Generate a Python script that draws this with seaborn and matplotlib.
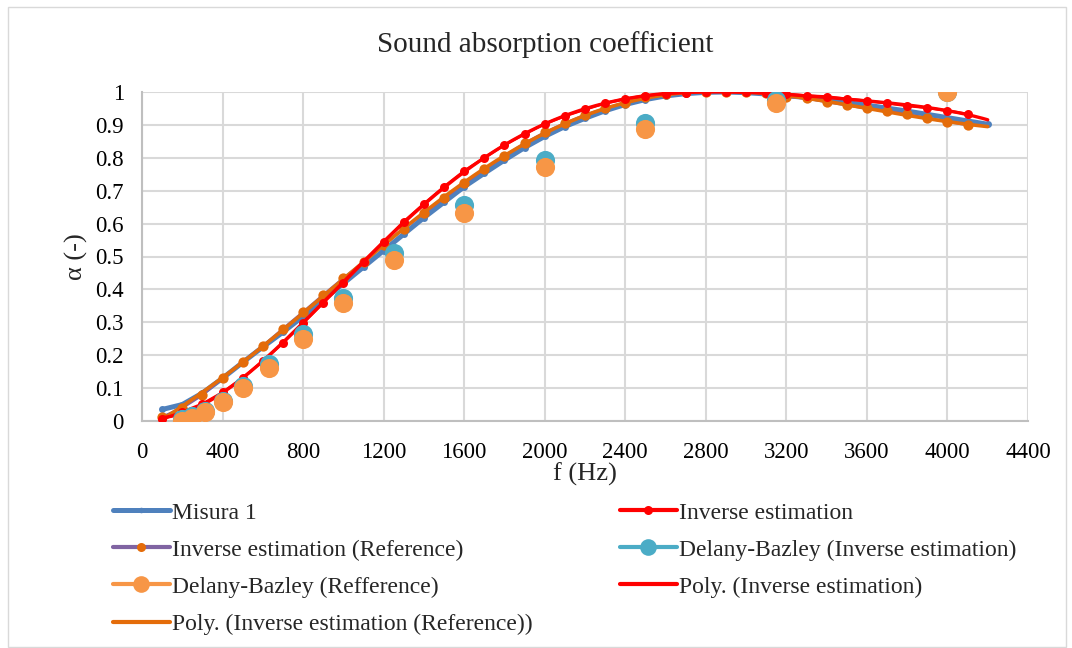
import numpy as np
import pandas as pd
import matplotlib
matplotlib.use("Agg")
import matplotlib.pyplot as plt
from matplotlib.lines import Line2D
from matplotlib.patches import Rectangle
import seaborn as sns

# ---- data -------------------------------------------------------------
freq_meas = [100, 200, 300, 400, 500, 600, 700, 800, 900, 1000, 1100, 1200,
             1300, 1400, 1500, 1600, 1700, 1800, 1900, 2000, 2100, 2200, 2300,
             2400, 2500, 2600, 2700, 2800, 2900, 3000, 3100, 3200, 3300, 3400,
             3500, 3600, 3700, 3800, 3900, 4000, 4100, 4200]
misura_1 = [0.035, 0.05, 0.085, 0.13, 0.178, 0.225, 0.27, 0.318, 0.368, 0.418,
            0.468, 0.518, 0.568, 0.618, 0.665, 0.712, 0.753, 0.793, 0.831,
            0.865, 0.895, 0.92, 0.943, 0.962, 0.977, 0.988, 0.995, 0.999, 1.0,
            0.998, 0.994, 0.989, 0.983, 0.976, 0.968, 0.96, 0.951, 0.942,
            0.932, 0.922, 0.912, 0.902]

freq_inv = [100, 200, 300, 400, 500, 600, 700, 800, 900, 1000, 1100, 1200,
            1300, 1400, 1500, 1600, 1700, 1800, 1900, 2000, 2100, 2200, 2300,
            2400, 2500, 2600, 2700, 2800, 2900, 3000, 3100, 3200, 3300, 3400,
            3500, 3600, 3700, 3800, 3900, 4000, 4100]
inverse_est = [0.005, 0.028, 0.052, 0.087, 0.131, 0.182, 0.237, 0.298, 0.359,
               0.42, 0.482, 0.545, 0.606, 0.66, 0.712, 0.76, 0.80, 0.839,
               0.872, 0.903, 0.927, 0.947, 0.966, 0.979, 0.989, 0.995, 0.998,
               1.0, 1.0, 0.999, 0.998, 0.994, 0.989, 0.986, 0.979, 0.973,
               0.966, 0.958, 0.952, 0.943, 0.933]
inverse_ref = [0.012, 0.04, 0.079, 0.13, 0.18, 0.228, 0.28, 0.331, 0.383,
               0.434, 0.483, 0.535, 0.585, 0.631, 0.677, 0.722, 0.765, 0.805,
               0.844, 0.877, 0.905, 0.93, 0.95, 0.968, 0.984, 0.994, 0.999,
               1.0, 1.0, 0.999, 0.996, 0.986, 0.981, 0.97, 0.96, 0.95, 0.942,
               0.932, 0.92, 0.91, 0.90]

freq_db = [200, 250, 315, 400, 500, 630, 800, 1000, 1250, 1600, 2000, 2500,
           3150, 4000]
db_inverse = [0.005, 0.015, 0.03, 0.062, 0.107, 0.173, 0.264, 0.374, 0.51,
              0.656, 0.793, 0.905, 0.976, 1.0]
db_ref = [0.0, 0.01, 0.027, 0.058, 0.1, 0.161, 0.25, 0.359, 0.49, 0.633,
          0.771, 0.887, 0.966, 0.999]

x_ticks = list(range(0, 4401, 400))
y_ticks = [0, 0.1, 0.2, 0.3, 0.4, 0.5, 0.6, 0.7, 0.8, 0.9, 1]
y_tick_labels = ["0", "0.1", "0.2", "0.3", "0.4", "0.5", "0.6", "0.7", "0.8",
                 "0.9", "1"]

# ---- colours ----------------------------------------------------------
C_MIS = "#4F81BD"
C_INV = "#FF0000"
C_REF = "#E46C0A"
C_PUR = "#8064A2"
C_DBI = "#4BACC6"
C_DBR = "#F79646"

sns.set_theme(style="whitegrid")
plt.rcParams["font.family"] = ["Liberation Serif", "DejaVu Serif"]
plt.rcParams["axes.unicode_minus"] = False

W, H = 1072, 648
fig = plt.figure(figsize=(W / 100, H / 100), dpi=100)
ax = fig.add_axes([142 / W, 1 - 421 / H, (1028 - 142) / W, (421 - 92) / H])


# polynomial trendlines fitted on the estimation series
def poly_trend(xs, ys, x_end, deg=6):
    xs = np.asarray(xs, float)
    coef = np.polyfit(xs / 1000.0, np.asarray(ys, float), deg)
    xf = np.linspace(xs[0], x_end, 300)
    return xf, np.polyval(coef, xf / 1000.0)


df_mis = pd.DataFrame({"f": freq_meas, "a": misura_1})
df_inv = pd.DataFrame({"f": freq_inv, "a": inverse_est})
df_ref = pd.DataFrame({"f": freq_inv, "a": inverse_ref})
df_dbi = pd.DataFrame({"f": freq_db, "a": db_inverse})
df_dbr = pd.DataFrame({"f": freq_db, "a": db_ref})

sns.lineplot(data=df_mis, x="f", y="a", ax=ax, color=C_MIS, lw=3.6,
             marker="o", markersize=5, markeredgewidth=0, zorder=3)
sns.lineplot(data=df_ref, x="f", y="a", ax=ax, color=C_PUR, lw=2.0,
             zorder=3.5)
xf, yf = poly_trend(freq_inv, inverse_ref, 4200)
ax.plot(xf, yf, color=C_REF, lw=2.6, zorder=4)
sns.scatterplot(data=df_ref, x="f", y="a", ax=ax, color=C_REF, s=55,
                linewidth=0, zorder=4.5)
sns.lineplot(data=df_inv, x="f", y="a", ax=ax, color=C_INV, lw=2.0,
             marker="o", markersize=6.5, markeredgewidth=0, zorder=5)
xf, yf = poly_trend(freq_inv, inverse_est, 4200)
ax.plot(xf, yf, color=C_INV, lw=2.4, zorder=5)
sns.scatterplot(data=df_dbi, x="f", y="a", ax=ax, color=C_DBI, s=190,
                linewidth=0, zorder=6)
sns.scatterplot(data=df_dbr, x="f", y="a", ax=ax, color=C_DBR, s=190,
                linewidth=0, zorder=6.5)

ax.set_xlim(0, 4400)
ax.set_ylim(0, 1)
ax.set_xticks(x_ticks)
ax.set_yticks(y_ticks)
ax.set_yticklabels(y_tick_labels)
ax.tick_params(axis="both", labelsize=16.5, colors="black", length=0)
ax.tick_params(axis="x", pad=15)
ax.tick_params(axis="y", pad=13)
ax.grid(True, color="#D9D9D9", lw=1.5)
ax.set_axisbelow(True)
for s in ax.spines.values():
    s.set_visible(False)
for side in ("left", "bottom"):
    ax.spines[side].set_visible(True)
    ax.spines[side].set_color("#BFBFBF")
    ax.spines[side].set_linewidth(1.5)
ax.set_facecolor("white")

ax.set_xlabel("f (Hz)", fontsize=19, labelpad=0)
ax.set_ylabel("α (-)", fontsize=19, labelpad=5)
fig.text(545 / W, 1 - 45 / H, "Sound absorption coefficient", fontsize=21,
         ha="center", va="center")

handles = [
    Line2D([], [], color=C_MIS, lw=3.6, marker="o", ms=4, mew=0),
    Line2D([], [], color=C_INV, lw=3, marker="o", ms=6.5, mew=0),
    Line2D([], [], color=C_PUR, lw=3, marker="o", ms=6.5, mew=0,
           markerfacecolor=C_REF),
    Line2D([], [], color=C_DBI, lw=3, marker="o", ms=12, mew=0),
    Line2D([], [], color=C_DBR, lw=3, marker="o", ms=12, mew=0),
    Line2D([], [], color=C_INV, lw=3),
    Line2D([], [], color=C_REF, lw=3),
]
labels = [
    "Misura 1",
    "Inverse estimation",
    "Inverse estimation (Reference)",
    "Delany-Bazley (Inverse estimation)",
    "Delany-Bazley (Refference)",
    "Poly. (Inverse estimation)",
    "Poly. (Inverse estimation (Reference))",
]
leg_kw = dict(loc="upper left", frameon=False, fontsize=17,
              handlelength=2.4, handletextpad=0.1, labelspacing=0.66,
              borderaxespad=0, borderpad=0)
left_idx = [0, 2, 4, 6]
right_idx = [1, 3, 5]
fig.legend([handles[i] for i in left_idx], [labels[i] for i in left_idx],
           bbox_to_anchor=(113 / W, 1 - 502 / H), **leg_kw)
fig.legend([handles[i] for i in right_idx], [labels[i] for i in right_idx],
           bbox_to_anchor=(620 / W, 1 - 502 / H), **leg_kw)

fig.patches.append(Rectangle((8 / W, 0.001), 1058 / W, 640 / H,
                             transform=fig.transFigure, fill=False,
                             edgecolor="#D9D9D9", lw=1.0))

fig.savefig("out.png", dpi=100, facecolor="white")
